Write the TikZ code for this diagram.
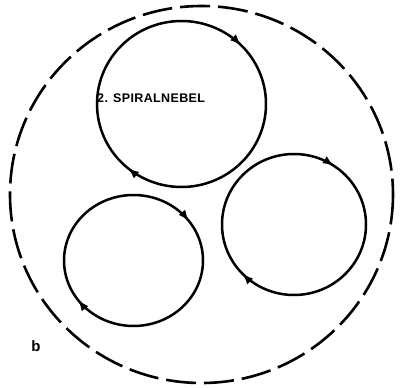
\documentclass[tikz,border=0pt]{standalone}
\usepackage{fontspec}
\setmainfont{Liberation Sans}
\usetikzlibrary{arrows.meta,decorations.markings}
\tikzset{
  galaxy/.style={draw=black, line width=2.5pt},
  halo/.style={draw=black, line width=2.6pt, dash pattern=on 30pt off 8pt},
  flow/.style 2 args={postaction={decorate}, decoration={markings,
      mark=at position #1 with {\arrow{Latex[length=11pt,width=8.5pt]}},
      mark=at position #2 with {\arrow{Latex[length=11pt,width=8.5pt]}}}},
  lbl/.style={inner sep=0pt}
}
\begin{document}
\begin{tikzpicture}[x=1pt,y=-1pt]
\useasboundingbox (0,0) rectangle (400,388);
% outer dashed boundary
\draw[halo] (201.5,194.5) ellipse [x radius=191.5, y radius=188.5];
% three galaxies
\draw[galaxy, flow={0.36}{0.875}] (181.5,104) ellipse [x radius=84.5, y radius=83];
\draw[galaxy, flow={0.399}{0.899}] (133.5,260.5) ellipse [x radius=69.5, y radius=65.5];
\draw[galaxy, flow={0.378}{0.844}] (294,224.5) ellipse [x radius=72, y radius=70.5];
% labels
\node[lbl, anchor=west, font=\bfseries\fontsize{12.5}{13}\selectfont\addfontfeature{LetterSpace=3}] (name) at (97,98) {2. SPIRALNEBEL};
\node[lbl, font=\bfseries\fontsize{15}{16}\selectfont] (b) at (36,346) {b};
\end{tikzpicture}
\end{document}
